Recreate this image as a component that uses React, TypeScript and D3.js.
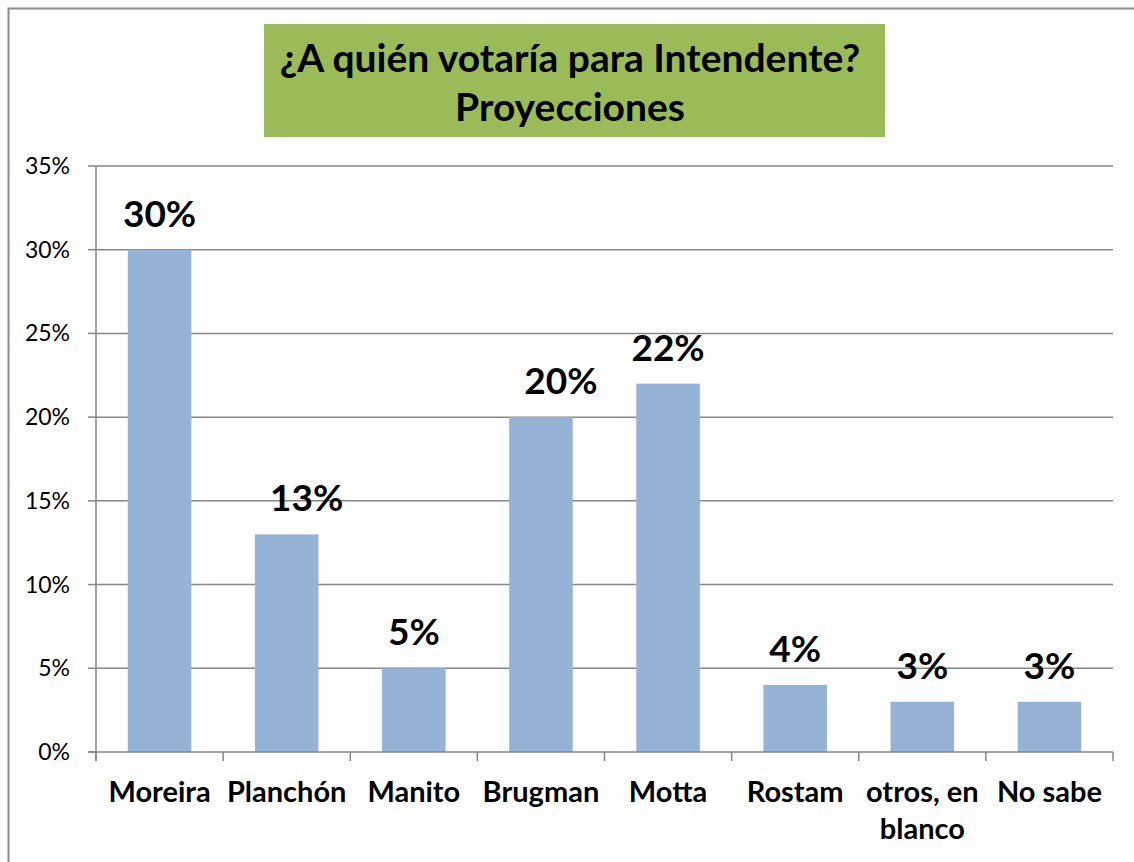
import * as d3 from "d3";

// candidates and projected vote share (%)
const candidates = [
  "Moreira",
  "Planchón",
  "Manito",
  "Brugman",
  "Motta",
  "Rostam",
  "otros, en blanco",
  "No sabe",
];
const shares = [30, 13, 5, 20, 22, 4, 3, 3];
const yTicks = [0, 5, 10, 15, 20, 25, 30, 35];
const titleLines = ["¿A quién votaría para Intendente?", "Proyecciones"];

const width = 1134;
const height = 862;
const margin = { top: 166, right: 21, bottom: 110, left: 96 };
const innerWidth = width - margin.left - margin.right;
const innerHeight = 752 - margin.top;

const font = "Lato, 'Open Sans', sans-serif";
const gridColor = "#868686";

// a couple of data labels were dragged right in the original
const labelShift: Record<string, number> = { "Planchón": 20, Brugman: 20 };

// split long category names onto two lines like the original
const wrap = (name: string) =>
  name === "otros, en blanco" ? ["otros, en", "blanco"] : [name];

const App = () => {
  const xScale = d3
    .scaleBand()
    .domain(candidates)
    .range([0, innerWidth])
    .paddingInner(0.5)
    .paddingOuter(0.25);

  const yScale = d3.scaleLinear().domain([0, 35]).range([innerHeight, 0]);
  const step = xScale.step();
  const mid = (c: string) => (xScale(c) ?? 0) + xScale.bandwidth() / 2;

  return (
    <svg
      width={width}
      height={height}
      style={{ position: "absolute", left: 0, top: 0, background: "#fff" }}
    >
      {/* chart frame, right and bottom edges fall outside the picture */}
      <rect x={8.5} y={8.5} width={1200} height={900} fill="none" stroke="#8c8c8c" strokeWidth={2} />

      {/* title box */}
      <rect x={264} y={24} width={621} height={113} fill="#9BBB59" />
      {titleLines.map((t, i) => (
        <text
          key={t}
          x={570}
          y={72 + i * 49}
          textAnchor="middle"
          fontFamily={font}
          fontWeight="bold"
          fontSize={39}
          fill="#000"
        >
          {t}
        </text>
      ))}

      <g transform={`translate(${margin.left},${margin.top})`}>
        {yTicks.map((t) => (
          <g key={t} transform={`translate(0,${yScale(t)})`}>
            {t > 0 && <line x1={0} x2={innerWidth} stroke={gridColor} strokeWidth={1.5} />}
            <line x1={-8} x2={0} stroke={gridColor} strokeWidth={1.5} />
            <text
              x={-26}
              dy="0.35em"
              textAnchor="end"
              fontFamily={font}
              fontSize={23}
              fill="#000"
            >
              {t}%
            </text>
          </g>
        ))}

        {candidates.map((c, i) => (
          <rect
            key={c}
            x={xScale(c)}
            y={yScale(shares[i])}
            width={xScale.bandwidth()}
            height={innerHeight - yScale(shares[i])}
            fill="#95B3D7"
          />
        ))}

        {candidates.map((c, i) => (
          <text
            key={c}
            x={mid(c) + (labelShift[c] ?? 0)}
            y={yScale(shares[i]) - 23}
            textAnchor="middle"
            fontFamily={font}
            fontWeight="bold"
            fontSize={37}
            fill="#000"
          >
            {shares[i]}%
          </text>
        ))}

        {/* axes */}
        <line x1={0} x2={0} y1={0} y2={innerHeight + 9} stroke={gridColor} strokeWidth={1.5} />
        <line x1={-8} x2={innerWidth} y1={innerHeight} y2={innerHeight} stroke={gridColor} strokeWidth={1.5} />
        {d3.range(candidates.length + 1).map((i) => (
          <line
            key={i}
            x1={i * step}
            x2={i * step}
            y1={innerHeight}
            y2={innerHeight + 9}
            stroke={gridColor}
            strokeWidth={1.5}
          />
        ))}

        {candidates.map((c) => (
          <text
            key={c}
            x={mid(c)}
            y={innerHeight + 50}
            textAnchor="middle"
            fontFamily={font}
            fontWeight="bold"
            fontSize={29}
            fill="#000"
          >
            {wrap(c).map((line, j) => (
              <tspan key={j} x={mid(c)} dy={j === 0 ? 0 : 37}>
                {line}
              </tspan>
            ))}
          </text>
        ))}
      </g>
    </svg>
  );
};

export default App;
